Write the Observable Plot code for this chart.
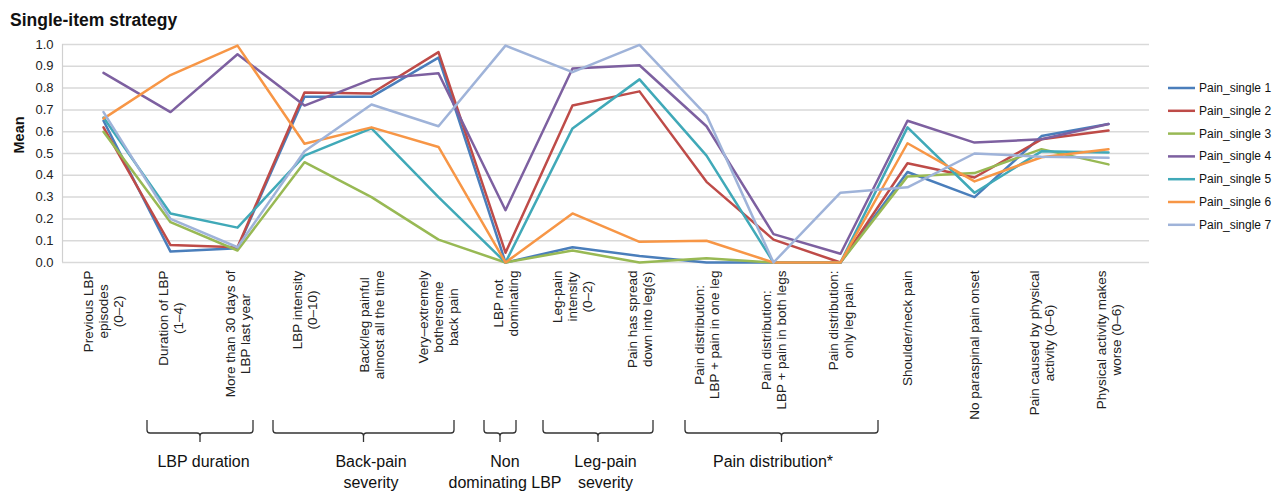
<!DOCTYPE html>
<html><head><meta charset="utf-8">
<script src="https://cdn.jsdelivr.net/npm/d3@7"></script>
<script src="https://cdn.jsdelivr.net/npm/@observablehq/plot@0.6"></script>
<style>
body{margin:0;background:#fff;font-family:"Liberation Sans",Arial,sans-serif;}
#title{font-weight:bold;font-size:17.5px;line-height:22px;padding:9px 0 0 10px;height:21px;color:#111;}
#chart svg{overflow:visible;display:block;}
</style></head><body>
<div id="title">Single-item strategy</div>
<div id="chart"></div>
<script>
const categories = [
  "Previous LBP\nepisodes\n(0–2)",
  "Duration of LBP\n(1–4)",
  "More than 30 days of\nLBP last year",
  "LBP intensity\n(0–10)",
  "Back/leg painful\nalmost all the time",
  "Very–extremely\nbothersome\nback pain",
  "LBP not\ndominating",
  "Leg-pain\nintensity\n(0–2)",
  "Pain has spread\ndown into leg(s)",
  "Pain distribution:\nLBP + pain in one leg",
  "Pain distribution:\nLBP + pain in both legs",
  "Pain distribution:\nonly leg pain",
  "Shoulder/neck pain",
  "No paraspinal pain onset",
  "Pain caused by physical\nactivity (0–6)",
  "Physical activity makes\nworse (0–6)"
];
const seriesNames = ["Pain_single 1","Pain_single 2","Pain_single 3","Pain_single 4","Pain_single 5","Pain_single 6","Pain_single 7"];
const painSingle1 = [0.65, 0.05, 0.065, 0.76, 0.76, 0.94, 0.0, 0.07, 0.03, 0.0, 0.0, 0.0, 0.415, 0.30, 0.58, 0.635];
const painSingle2 = [0.62, 0.08, 0.07, 0.78, 0.775, 0.965, 0.045, 0.72, 0.785, 0.37, 0.105, 0.0, 0.455, 0.39, 0.565, 0.605];
const painSingle3 = [0.60, 0.185, 0.055, 0.46, 0.30, 0.105, 0.0, 0.055, 0.0, 0.02, 0.0, 0.0, 0.395, 0.41, 0.52, 0.45];
const painSingle4 = [0.87, 0.69, 0.955, 0.72, 0.84, 0.868, 0.24, 0.89, 0.905, 0.625, 0.13, 0.04, 0.65, 0.55, 0.565, 0.635];
const painSingle5 = [0.665, 0.225, 0.16, 0.49, 0.615, 0.30, 0.0, 0.615, 0.84, 0.49, 0.0, 0.0, 0.62, 0.32, 0.51, 0.505];
const painSingle6 = [0.66, 0.86, 0.995, 0.545, 0.62, 0.53, 0.0, 0.225, 0.095, 0.10, 0.0, 0.0, 0.547, 0.372, 0.483, 0.52];
const painSingle7 = [0.69, 0.20, 0.07, 0.51, 0.725, 0.625, 0.995, 0.873, 0.998, 0.675, 0.0, 0.32, 0.345, 0.50, 0.485, 0.48];
const yTicks = [0, 0.1, 0.2, 0.3, 0.4, 0.5, 0.6, 0.7, 0.8, 0.9, 1.0];
const groupLabels = ["LBP duration", "Back-pain\nseverity", "Non\ndominating LBP", "Leg-pain\nseverity", "Pain distribution*"];
const groupFirst = [1, 3, 6, 7, 9];
const groupLast = [2, 5, 6, 8, 11];

// styles
const seriesColors = ["#4a7ebb", "#be4b48", "#98b954", "#7d60a0", "#40a9b8", "#f79646", "#9fb3d9"];
const groupPadLeft = [23, 31, 21, 29, 21];
const groupPadRight = [16, 16, 11, 14, 38];

const allSeries = [painSingle1, painSingle2, painSingle3, painSingle4, painSingle5, painSingle6, painSingle7];
const rows = [];
seriesNames.forEach((s, si) => categories.forEach((c, ci) => rows.push({series: s, category: c, value: allSeries[si][ci]})));

const W = 1283, H = 463, mT = 14, mB = 231, mL = 62, mR = 134;
const font = '"Liberation Sans", Arial, sans-serif';
const labelFont = 13.5;
const ctx = document.createElement("canvas").getContext("2d");
ctx.font = `${labelFont}px "Liberation Sans"`;
const labelMarks = categories.map(c => {
  const w = d3.max(c.split("\n"), l => ctx.measureText(l).width);
  return Plot.text([c], {x: d => d, text: d => d, frameAnchor: "bottom", rotate: -90, textAnchor: "middle",
    lineAnchor: "middle", lineHeight: 1.1, fontSize: labelFont, dy: 8 + w / 2, fill: "#222"});
});

const chart = Plot.plot({
  width: W, height: H, marginTop: mT, marginBottom: mB, marginLeft: mL, marginRight: mR,
  style: {fontFamily: font, fontSize: "13px", color: "#222", background: "white", overflow: "visible"},
  x: {type: "point", domain: categories, padding: 0.5, axis: null},
  y: {domain: [0, 1], ticks: yTicks, tickFormat: d3.format(".1f"), tickSize: 0, tickPadding: 9, label: null},
  color: {domain: seriesNames, range: seriesColors},
  marks: [
    Plot.ruleY(yTicks, {stroke: "#d9d9d9", strokeWidth: 1.5}),
    Plot.line(rows, {x: "category", y: "value", z: "series", stroke: "series", strokeWidth: 2.5, strokeLinejoin: "round"}),
    Plot.text(["Mean"], {text: d => d, frameAnchor: "left", rotate: -90, dx: -43, fontWeight: "bold", fontSize: 14.5, fill: "#111"}),
    ...labelMarks
  ]
});
document.getElementById("chart").appendChild(chart);

const svg = d3.select(chart);
const xs = chart.scale("x");
const xp = v => xs.apply(v);
const cs = chart.scale("color");
const frameBottom = H - mB;

// left axis line
svg.append("line").attr("x1", mL + 0.5).attr("x2", mL + 0.5).attr("y1", mT).attr("y2", frameBottom)
  .attr("stroke", "#d0d0d0").attr("stroke-width", 1.2);

// brackets and group labels
const gb = svg.append("g").attr("fill", "none").attr("stroke", "#333").attr("stroke-width", 1.3);
const gl = svg.append("g").attr("font-family", font).attr("font-size", 16).attr("fill", "#111").attr("text-anchor", "middle");
groupLabels.forEach((lab, i) => {
  const x0 = xp(categories[groupFirst[i]]) - groupPadLeft[i];
  const x1 = xp(categories[groupLast[i]]) + groupPadRight[i];
  const cx = (x0 + x1) / 2;
  const yT = frameBottom + 158, yH = frameBottom + 171, yE = frameBottom + 180;
  gb.append("path").attr("d",
    `M${x0},${yT} V${yH - 3} Q${x0},${yH} ${x0 + 3},${yH} H${cx - 3} Q${cx},${yH} ${cx},${yH + 3} V${yE}` +
    ` M${cx},${yH + 3} Q${cx},${yH} ${cx + 3},${yH} H${x1 - 3} Q${x1},${yH} ${x1},${yH - 3} V${yT}`);
  const lx = (xp(categories[groupFirst[i]]) + xp(categories[groupLast[i]])) / 2;
  const t = gl.append("text").attr("x", lx).attr("y", frameBottom + 199).attr("dominant-baseline", "central");
  lab.split("\n").forEach((ln, j) => t.append("tspan").attr("x", lx).attr("dy", j === 0 ? 0 : 21).text(ln));
});

// legend
const lg = svg.append("g").attr("font-family", font).attr("font-size", 12).attr("fill", "#111").attr("text-anchor", "start");
seriesNames.forEach((s, i) => {
  const y = 58 + i * 22.8;
  lg.append("line").attr("x1", 1168).attr("x2", 1195).attr("y1", y).attr("y2", y)
    .attr("stroke", cs.apply(s)).attr("stroke-width", 2.5);
  lg.append("text").attr("x", 1199).attr("y", y).attr("dominant-baseline", "central").text(s);
});
</script></body></html>
